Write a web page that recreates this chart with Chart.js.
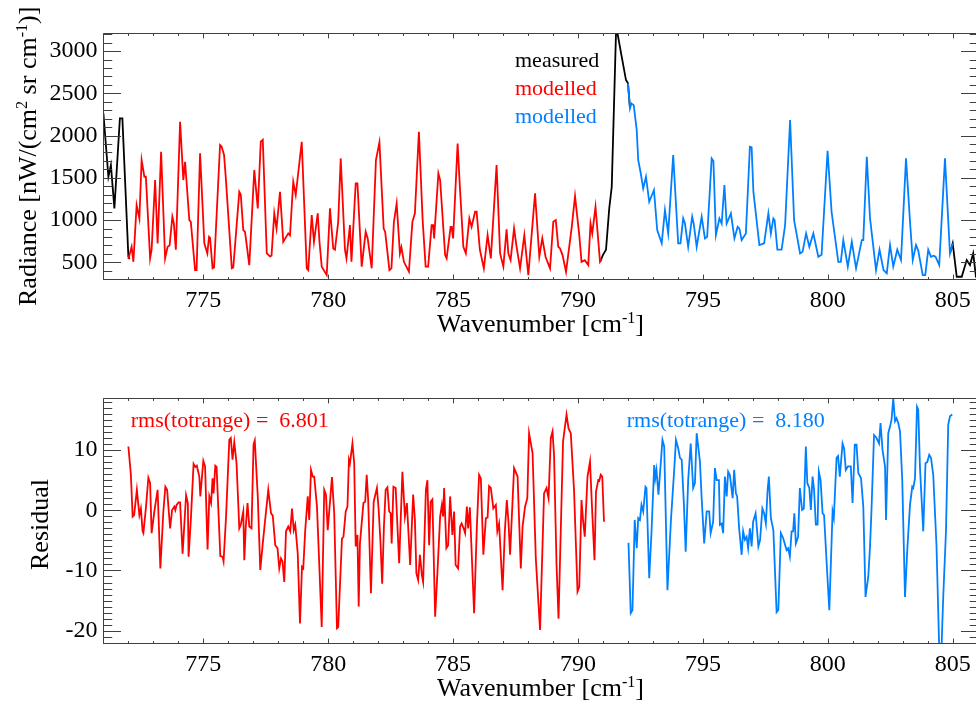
<!DOCTYPE html>
<html><head><meta charset="utf-8">
<script src="https://cdn.jsdelivr.net/npm/chart.js@4/dist/chart.umd.min.js"></script>
<style>
html,body{margin:0;padding:0;background:#fff;overflow:hidden;width:976px;height:709px;position:relative;}
canvas{position:absolute;left:0;}
#top{top:0}
#bot{top:345px}
</style></head><body>
<canvas id="top" width="990" height="345"></canvas>
<canvas id="bot" width="990" height="364"></canvas>
<script>
// ---------------- DATA ----------------
const xTicks = [775, 780, 785, 790, 795, 800, 805];
const radTicks = [500, 1000, 1500, 2000, 2500, 3000];
const resTicks = [-20, -10, 0, 10];

// measured radiance (visible parts; null = gap)
const measWn  = [771.0,771.2,771.3,771.44,771.66,771.76,772.0,772.05, 781,
                 790.88,791.0,791.12,791.25,791.35,791.52,791.58,791.75,791.92,792.0,792.08, 798,
                 804.89,805.0,805.16,805.36,805.56,805.69,805.82,805.93,806.0];
const measRad = [2263,1513,1651,1139,2204,2204,566,540, null,
                 507,590,650,1139,1395,3210,3210,2932,2657,2618,2322, null,
                 606,725,330,330,528,468,606,330,300];

// modelled radiance, red range
const redWn = [772.0,772.13,772.2,772.33,772.44,772.53,772.64,772.7,772.87,772.93,773.07,773.17,773.31,773.47,773.57,773.65,773.76,773.82,773.9,
 774.07,774.2,774.27,774.44,774.5,774.67,774.73,774.87,775.04,775.16,775.23,775.27,775.37,775.43,775.67,775.73,775.83,775.9,776.14,776.2,
 776.44,776.5,776.6,776.67,776.84,777.04,777.18,777.3,777.38,777.54,777.67,777.73,777.84,777.93,778.07,778.2,778.4,778.47,778.6,778.7,
 778.94,779.14,779.2,779.34,779.43,779.58,779.65,779.74,779.94,780.07,780.2,780.27,780.4,780.5,780.67,780.73,780.87,780.93,781.1,781.17,
 781.34,781.5,781.58,781.74,781.91,782.05,782.22,782.28,782.45,782.53,782.63,782.74,782.87,782.93,783.03,783.23,783.37,783.47,783.63,
 783.78,783.9,784.0,784.14,784.2,784.24,784.41,784.48,784.68,784.74,784.9,784.94,785.0,785.18,785.27,785.41,785.51,785.65,785.74,785.88,
 785.94,786.07,786.23,786.38,786.51,786.74,786.88,787.01,787.14,787.21,787.3,787.44,787.54,787.68,787.85,788.01,788.28,788.45,788.57,
 788.7,788.88,789.01,789.11,789.21,789.28,789.38,789.52,789.75,789.88,790.05,790.14,790.27,790.41,790.5,790.57,790.7,790.88,790.95];
const redRad = [540,685,507,1178,1020,1710,1513,1513,547,650,1474,725,1809,547,685,700,1040,960,650,
 2164,1474,1690,1000,980,409,409,1790,725,606,803,790,430,440,1888,1870,1770,1500,430,440,
 1335,1300,882,860,468,1592,1139,1927,1950,606,570,580,1080,900,1335,744,843,820,1454,1297,
 1927,430,409,1060,744,1080,744,450,350,1139,665,650,980,1730,650,547,941,507,1435,1435,
 450,862,784,430,1710,1920,900,860,409,430,980,1198,606,680,507,389,980,1080,2045,
 1000,450,450,941,941,784,1553,1474,586,547,921,921,784,1907,1395,685,606,1020,921,1099,
 1099,650,430,823,547,1651,606,450,890,606,527,902,685,430,823,350,1316,567,784,
 567,430,980,1000,685,665,586,389,921,1284,823,507,527,468,960,843,1158,507,540];

// modelled radiance, blue range
const blueWn = [792.0,792.08,792.14,792.23,792.35,792.41,792.5,792.61,792.72,792.85,793.04,793.17,793.35,793.48,793.61,793.81,794.01,794.1,
 794.21,794.28,794.41,794.57,794.63,794.75,794.95,795.08,795.17,795.35,795.42,795.52,795.66,795.75,795.86,795.95,796.12,796.26,796.39,
 796.46,796.55,796.72,796.88,796.95,797.02,797.26,797.45,797.62,797.72,797.82,797.87,797.98,798.15,798.29,798.49,798.65,798.89,798.99,
 799.13,799.26,799.42,799.62,799.75,799.99,800.15,800.42,800.52,800.62,800.8,800.96,801.13,801.36,801.42,801.56,801.69,801.93,802.07,
 802.23,802.36,802.49,802.62,802.78,802.93,803.13,803.29,803.4,803.53,803.62,803.8,803.9,804.02,804.13,804.23,804.31,804.46,804.69,
 804.89,805.0];
const blueRad = [2618,2322,2380,2360,2065,1710,1572,1375,1513,1217,1356,882,725,1119,843,1770,725,725,
 1020,960,685,1040,960,685,1040,784,803,1730,1700,823,1020,960,1415,960,1080,784,921,
 900,764,843,1868,1860,1336,705,725,1080,843,1020,1000,650,650,941,2184,1000,606,625,
 843,685,843,567,590,1820,1099,507,507,764,450,744,430,764,764,1750,1020,409,650,
 409,370,705,450,650,528,1730,980,528,705,640,350,350,650,567,580,567,468,1730,
 606,725];

// residuals, red range
const redResWn = [772.0,772.1,772.17,772.23,772.34,772.44,772.5,772.57,772.6,772.7,772.8,772.87,772.93,773.04,773.17,773.28,773.4,773.48,773.55,
 773.67,773.75,773.84,773.88,773.93,774.01,774.07,774.17,774.31,774.38,774.41,774.5,774.61,774.68,774.74,774.84,774.88,775.0,775.07,775.17,
 775.24,775.31,775.37,775.41,775.48,775.53,775.68,775.77,775.81,775.91,776.04,776.1,776.17,776.24,776.33,776.44,776.5,776.6,776.64,776.7,
 776.77,776.84,776.93,777.01,777.06,777.18,777.28,777.38,777.51,777.6,777.71,777.78,777.88,777.97,778.04,778.11,778.17,778.24,778.31,778.4,
 778.48,778.55,778.62,778.68,778.78,778.87,778.95,779.0,779.08,779.18,779.24,779.31,779.38,779.44,779.55,779.74,779.84,779.91,779.98,780.15,
 780.24,780.35,780.4,780.55,780.61,780.7,780.77,780.83,780.87,780.97,781.04,781.1,781.17,781.22,781.27,781.41,781.48,781.54,781.6,781.71,
 781.82,781.88,781.95,782.02,782.09,782.16,782.23,782.3,782.37,782.44,782.5,782.54,782.61,782.7,782.84,782.97,783.07,783.15,783.28,783.4,
 783.47,783.53,783.6,783.67,783.75,783.8,783.91,783.97,784.04,784.1,784.17,784.28,784.37,784.48,784.55,784.6,784.64,784.73,784.8,784.88,
 784.97,785.04,785.1,785.2,785.28,785.34,785.42,785.48,785.55,785.6,785.67,785.84,785.95,786.04,786.11,786.21,786.31,786.38,786.44,786.51,
 786.61,786.71,786.77,786.84,786.98,787.07,787.15,787.22,787.28,787.44,787.58,787.71,787.78,787.88,787.97,788.04,788.18,788.31,788.48,788.64,
 788.74,788.82,788.91,788.98,789.04,789.14,789.22,789.4,789.54,789.62,789.71,789.84,789.98,790.05,790.14,790.2,790.27,790.38,790.48,790.55,
 790.66,790.72,790.81,790.85,790.91,790.97,791.04];
const redRes = [10.6,5.9,-1.05,-0.8,3.4,-0.8,0.3,-3.5,-3.8,0.3,5.4,4.5,-3.8,-0.2,3.4,-9.65,-0.2,3.9,3.4,
 -3.0,0.05,0.6,0.05,0.9,1.3,1.3,-7.2,2.5,1.2,-7.7,-1.6,7.7,7.2,7.4,5.6,2.3,8.2,7.3,-6.5,
 2.3,1.2,5.3,2.8,7.4,7.2,-7.6,-7.7,-8.5,-1.05,11.7,12.0,8.4,11.3,7.8,-3.0,-2.4,-0.2,-8.3,-2.7,
 1.2,-2.7,-3.0,10.9,11.6,2.3,-9.9,-5.5,-0.2,3.4,-0.5,-0.9,-5.8,-6.3,-9.65,-8.0,-8.5,-11.9,-3.5,-2.7,
 -3.5,0.3,-3.3,-2.4,-7.2,-18.8,-9.4,-9.65,-3.3,2.3,-1.6,6.7,5.6,5.6,0.6,-19.4,3.4,2.6,-3.3,5.5,
 -0.5,-19.6,-19.4,-4.7,-4.4,-0.2,0.6,8.4,7.8,11.1,7.8,-6.0,-4.1,-16.0,-5.5,1.2,1.4,5.9,1.7,-13.8,
 1.4,2.5,3.7,0.05,-5.2,-12.2,-2.7,3.4,3.8,-0.2,-0.5,-5.5,3.9,3.7,-8.8,6.4,-1.05,1.2,-9.1,2.6,
 -1.6,-10.5,-11.6,-7.4,-10.8,-11.9,3.4,5.0,-5.8,1.4,1.8,-17.7,-10.5,-1.05,0.9,-1.05,3.7,-6.3,-5.8,2.3,
 -4.1,-0.2,-9.1,-9.65,-2.7,-2.2,-3.0,-3.8,0.6,-3.0,0.5,-17.1,-2.7,5.9,5.3,-7.4,-1.3,-1.2,4.0,3.7,
 0.3,0.9,-3.5,-2.2,-13.3,-3.5,1.7,-2.2,-7.4,7.0,5.6,-9.65,-2.7,0.6,2.0,12.8,9.5,-8.0,-19.9,2.8,
 3.7,2.0,12.0,13.1,9.2,-9.1,-18.0,11.4,15.9,13.6,12.8,3.4,-13.5,-12.7,1.7,-1.6,-4.4,5.6,8.1,1.4,
 -8.3,3.1,5.0,4.9,5.9,5.6,-1.9];

// residuals, blue range
const blueResWn = [792.02,792.11,792.18,792.27,792.35,792.41,792.48,792.54,792.61,792.7,792.74,792.85,792.94,793.05,793.09,793.14,793.22,793.38,
 793.45,793.58,793.72,793.85,793.92,794.01,794.08,794.15,794.24,794.31,794.41,794.51,794.61,794.68,794.75,794.88,794.95,795.05,795.15,795.25,
 795.31,795.41,795.48,795.55,795.64,795.68,795.75,795.81,795.88,795.95,796.01,796.08,796.19,796.25,796.32,796.37,796.45,796.55,796.61,796.68,
 796.75,796.81,796.88,796.95,797.01,797.11,797.22,797.29,797.38,797.45,797.52,797.59,797.64,797.72,797.82,797.95,798.02,798.12,798.21,798.35,
 798.41,798.48,798.55,798.61,798.66,798.72,798.81,798.88,798.97,799.04,799.12,799.18,799.26,799.32,799.39,799.45,799.52,799.59,799.64,799.71,
 799.79,799.85,799.95,800.06,800.19,800.24,800.35,800.41,800.48,800.59,800.65,800.72,800.81,800.92,800.99,801.08,801.15,801.22,801.33,801.42,
 801.51,801.62,801.69,801.75,801.85,801.95,802.05,802.11,802.19,802.29,802.33,802.42,802.49,802.55,802.62,802.69,802.75,802.82,802.89,802.98,
 803.09,803.18,803.29,803.38,803.42,803.49,803.57,803.62,803.69,803.82,803.91,803.98,804.06,804.13,804.22,804.35,804.46,804.55,804.62,804.73,
 804.82,804.89,804.98];
const blueRes = [-5.4,-17.1,-16.6,-1.6,-6.3,-1.3,-1.6,0.9,-0.2,3.9,3.7,-11.3,-3.8,7.5,5.3,6.7,2.6,11.7,
 10.6,-13.3,-1.6,6.7,11.7,10.3,8.7,8.4,0.9,-6.9,5.0,11.1,3.7,4.5,12.8,8.1,2.0,-5.5,-0.2,-0.2,
 -3.8,-1.9,7.0,5.0,5.0,-2.4,-2.2,-3.8,5.6,2.3,6.4,5.8,2.0,6.7,2.8,2.3,-3.0,-7.4,-3.5,-4.9,
 -4.4,-6.3,-3.0,-6.0,-1.9,-0.5,-6.0,-4.9,0.3,-0.5,-2.2,3.4,5.6,-1.3,-3.3,-16.9,-16.5,-3.8,-4.6,-6.6,
 -6.3,-7.7,-3.5,-3.5,-0.5,-5.5,-4.4,3.7,0.05,0.3,10.6,4.5,3.7,0.05,5.6,3.4,-2.4,-2.4,6.4,5.0,
 -0.5,-0.8,-8.5,-16.6,-0.2,-1.3,8.7,9.0,5.6,11.1,10.3,6.7,7.3,7.3,1.2,10.9,10.9,6.2,5.3,0.6,
 -14.4,-11.0,-6.0,0.3,12.5,12.0,11.1,14.5,10.0,7.3,-1.6,12.8,13.9,15.0,18.6,14.8,15.3,14.5,13.1,5.0,
 -14.4,-6.6,0.9,3.9,3.7,5.3,17.2,16.7,7.0,-3.5,7.8,8.0,9.2,8.7,5.9,-5.8,-23,-23,-14.4,-3.5,
 14.2,15.6,15.9];

const legendLabels = ['measured', 'modelled', 'modelled'];
const rmsLabels = ['rms(totrange) =  6.801', 'rms(totrange) =  8.180'];

// ---------------- STYLE / LAYOUT ----------------
const FONT = '"Liberation Serif", "Times New Roman", serif';
const RED = '#ff0000', BLUE = 'rgb(0,128,255)', BLACK = '#000000';
const pts = (xs, ys) => xs.map((x, i) => ({x, y: ys[i]}));

function drawRich(ctx, parts, x, y, size, align, color) {
  ctx.fillStyle = color || '#000';
  ctx.textBaseline = 'alphabetic';
  ctx.textAlign = 'left';
  let w = 0;
  parts.forEach(([t, s]) => { ctx.font = (s ? size * 0.62 : size) + 'px ' + FONT; w += ctx.measureText(t).width; });
  let cx = align === 'center' ? x - w / 2 : x;
  parts.forEach(([t, s]) => {
    ctx.font = (s ? size * 0.62 : size) + 'px ' + FONT;
    ctx.fillText(t, cx, s ? y - size * 0.36 : y);
    cx += ctx.measureText(t).width;
  });
}

const axisDecor = {
  id: 'axisDecor',
  afterDraw(chart, args, o) {
    const {ctx, chartArea: a} = chart;
    const xs = chart.scales.x, ys = chart.scales.y;
    ctx.save();
    ctx.strokeStyle = '#404040';
    ctx.lineWidth = 1;
    const L = Math.round(a.left) + 0.5, R = Math.round(a.right) + 0.5;
    const T = Math.round(a.top) + 0.5, B = Math.round(a.bottom) + 0.5;
    ctx.beginPath();
    ctx.rect(L, T, R - L, B - T);
    const xLen = (a.bottom - a.top) * 0.02, yLen = (a.right - a.left) * 0.02;
    const s0 = Math.ceil(xs.min / o.xMinor - 1e-9);
    for (let k = s0; k * o.xMinor <= xs.max + 1e-9; k++) {
      const v = k * o.xMinor;
      const p = Math.round(xs.getPixelForValue(v)) + 0.5;
      const major = Math.abs(v / o.xMajor - Math.round(v / o.xMajor)) < 1e-6;
      const len = major ? xLen : xLen / 2;
      ctx.moveTo(p, B); ctx.lineTo(p, B - len);
      ctx.moveTo(p, T); ctx.lineTo(p, T + len);
    }
    const t0 = Math.ceil(ys.min / o.yMinor - 1e-9);
    for (let k = t0; k * o.yMinor <= ys.max + 1e-9; k++) {
      const v = k * o.yMinor;
      const p = Math.round(ys.getPixelForValue(v)) + 0.5;
      const major = Math.abs(v / o.yMajor - Math.round(v / o.yMajor)) < 1e-6;
      const len = major ? yLen : yLen / 2;
      ctx.moveTo(L, p); ctx.lineTo(L + len, p);
      ctx.moveTo(R, p); ctx.lineTo(R - len, p);
    }
    ctx.stroke();
    drawRich(ctx, o.xTitle, (a.left + a.right) / 2, a.bottom + o.xTitleGap, o.titleSize, 'center');
    ctx.save();
    ctx.translate(o.yTitleX, (a.top + a.bottom) / 2 + o.yTitleShift);
    ctx.rotate(-Math.PI / 2);
    drawRich(ctx, o.yTitle, 0, 0, o.titleSize, 'center');
    ctx.restore();
    o.notes.forEach(n => {
      ctx.font = n.size + 'px ' + FONT;
      ctx.fillStyle = n.color;
      ctx.textAlign = 'left';
      ctx.textBaseline = 'alphabetic';
      ctx.fillText(n.text, n.x, n.y);
    });
    ctx.restore();
  }
};
Chart.register(axisDecor);

function makeChart(id, datasets, yMin, yMax, yTickVals, cfg) {
  return new Chart(document.getElementById(id), {
    type: 'line',
    data: {datasets},
    options: {
      responsive: false,
      animation: false,
      events: [],
      layout: {padding: {top: cfg.padTop, right: 12.3, left: 0, bottom: 0}},
      elements: {line: {tension: 0, borderWidth: 1.8}, point: {radius: 0}},
      plugins: {
        legend: {display: false},
        tooltip: {enabled: false},
        axisDecor: cfg.decor
      },
      scales: {
        x: {
          type: 'linear', min: 771, max: 806,
          afterBuildTicks: s => { s.ticks = xTicks.map(v => ({value: v})); },
          afterFit: s => { s.height = cfg.xAxisH; },
          grid: {display: false, drawTicks: false},
          border: {display: false},
          ticks: {font: {family: FONT, size: 24}, color: '#000', padding: 7, maxRotation: 0, autoSkip: false,
                  callback: v => String(v)}
        },
        y: {
          type: 'linear', min: yMin, max: yMax,
          afterBuildTicks: s => { s.ticks = yTickVals.map(v => ({value: v})); },
          afterFit: s => { s.width = 103.4; },
          grid: {display: false, drawTicks: false},
          border: {display: false},
          ticks: {font: {family: FONT, size: 24}, color: '#000', padding: 6, autoSkip: false,
                  callback: v => String(v)}
        }
      }
    }
  });
}

makeChart('top', [
  {data: pts(redWn, redRad), borderColor: RED, order: 1, spanGaps: false},
  {data: pts(blueWn, blueRad), borderColor: BLUE, order: 2, spanGaps: false},
  {data: pts(measWn, measRad), borderColor: BLACK, order: 3, spanGaps: false}
], 300, 3210, radTicks, {
  padTop: 33.3, xAxisH: 65.7,
  decor: {
    xMinor: 1, xMajor: 5, yMinor: 100, yMajor: 500, titleSize: 26, xTitleGap: 53, yTitleX: 36, yTitleShift: 0,
    xTitle: [['Wavenumber [cm', 0], ['-1', 1], [']', 0]],
    yTitle: [['Radiance [nW/(cm', 0], ['2', 1], [' sr cm', 0], ['-1', 1], [')]', 0]],
    notes: [
      {text: legendLabels[0], color: BLACK, x: 515, y: 66.7, size: 22},
      {text: legendLabels[1], color: RED, x: 515, y: 95, size: 22},
      {text: legendLabels[2], color: BLUE, x: 515, y: 123.3, size: 22}
    ]
  }
});

makeChart('bot', [
  {data: pts(redResWn, redRes), borderColor: RED, order: 1},
  {data: pts(blueResWn, blueRes), borderColor: BLUE, order: 2}
], -22.1, 18.7, resTicks, {
  padTop: 52.7, xAxisH: 65.7,
  decor: {
    xMinor: 1, xMajor: 5, yMinor: 1, yMajor: 10, titleSize: 26, xTitleGap: 53, yTitleX: 48, yTitleShift: 4,
    xTitle: [['Wavenumber [cm', 0], ['-1', 1], [']', 0]],
    yTitle: [['Residual', 0]],
    notes: [
      {text: rmsLabels[0], color: RED, x: 130.7, y: 81.7, size: 22},
      {text: rmsLabels[1], color: BLUE, x: 626.7, y: 81.7, size: 22}
    ]
  }
});
</script></body></html>
